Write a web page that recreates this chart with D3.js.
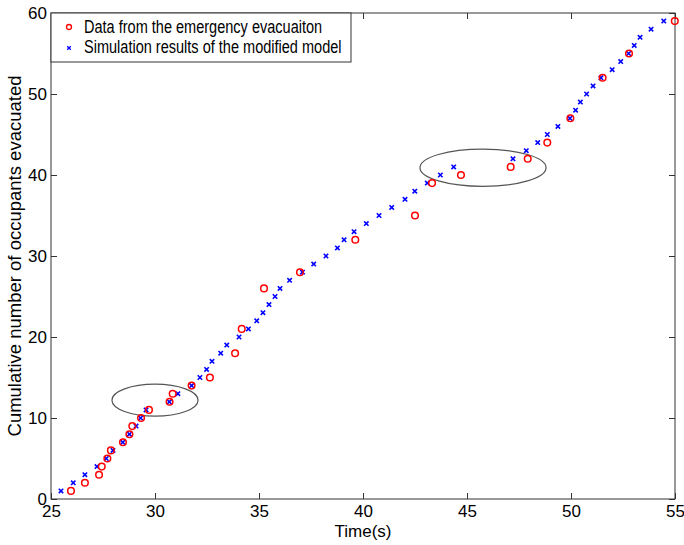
<!DOCTYPE html>
<html>
<head>
<meta charset="utf-8">
<title>Cumulative evacuation</title>
<script src="https://d3js.org/d3.v7.min.js"></script>
<style>
  body { margin: 0; background: #fff; font-family: "Liberation Sans", Arial, sans-serif; }
  .tick-label { font-size: 17px; fill: #000; }
  .axis-title { font-size: 17px; fill: #000; }
  .y-title { font-size: 18.5px; fill: #000; }
  .legend-text { font-size: 17.5px; fill: #000; }
</style>
</head>
<body>
<div id="chart"></div>
<script>
// measured data (red circles)
const dataTime = [25.96, 26.63, 27.31, 27.44, 27.71, 27.88, 28.46, 28.77, 28.91, 29.33,
  29.71, 30.70, 30.85, 31.76, 32.64, 33.85, 34.17, 35.24, 36.97, 39.63,
  42.50, 43.32, 44.71, 47.10, 47.92, 48.86, 49.97, 51.52, 52.79, 54.99];
const dataCount = [1, 2, 3, 4, 5, 6, 7, 8, 9, 10,
  11, 12, 13, 14, 15, 18, 21, 26, 28, 32,
  35, 39, 40, 41, 42, 44, 47, 52, 55, 59];

// simulation (blue crosses)
const simTime = [25.48, 26.07, 26.63, 27.21, 27.66, 27.98, 28.45, 28.77, 29.09, 29.31,
  29.57, 30.69, 31.10, 31.76, 32.16, 32.48, 32.74, 33.16, 33.45, 34.04,
  34.49, 34.89, 35.19, 35.48, 35.77, 36.01, 36.47, 37.09, 37.63, 38.22,
  38.77, 39.09, 39.57, 40.16, 40.77, 41.38, 42.02, 42.49, 43.09, 43.72,
  44.36, 47.21, 47.85, 48.40, 48.86, 49.37, 49.95, 50.22, 50.45, 50.75,
  51.06, 51.44, 51.98, 52.39, 52.77, 53.04, 53.32, 53.85, 54.46];
const simCount = [1, 2, 3, 4, 5, 6, 7, 8, 9, 10,
  11, 12, 13, 14, 15, 16, 17, 18, 19, 20,
  21, 22, 23, 24, 25, 26, 27, 28, 29, 30,
  31, 32, 33, 34, 35, 36, 37, 38, 39, 40,
  41, 42, 43, 44, 45, 46, 47, 48, 49, 50,
  51, 52, 53, 54, 55, 56, 57, 58, 59];

const xTicks = [25, 30, 35, 40, 45, 50, 55];
const yTicks = [0, 10, 20, 30, 40, 50, 60];
const legendLabels = ["Data from the emergency evacuaiton", "Simulation results of the modified model"];

// highlighted regions (data units)
const ellipseCx = [30.0, 45.77];
const ellipseCy = [12.2, 40.9];
const ellipseRx = [2.07, 3.03];
const ellipseRy = [1.97, 2.3];

const width = 684, height = 545;
const margin = { top: 13, right: 9, bottom: 46, left: 51 };

const svg = d3.select("#chart").append("svg")
  .attr("width", width)
  .attr("height", height);

const x = d3.scaleLinear().domain([25, 55]).range([margin.left, width - margin.right]);
const y = d3.scaleLinear().domain([0, 60]).range([height - margin.bottom, margin.top]);

const axisColor = "#333";
const tickLen = 6;

// box
svg.append("rect")
  .attr("x", x(25)).attr("y", y(60))
  .attr("width", x(55) - x(25)).attr("height", y(0) - y(60))
  .attr("fill", "none").attr("stroke", axisColor).attr("stroke-width", 1);

// inward ticks on all four sides
const bottomAxis = svg.append("g").attr("transform", `translate(0,${y(0)})`)
  .call(d3.axisBottom(x).tickValues(xTicks).tickSizeInner(-tickLen).tickSizeOuter(0).tickPadding(6));
const leftAxis = svg.append("g").attr("transform", `translate(${x(25)},0)`)
  .call(d3.axisLeft(y).tickValues(yTicks).tickSizeInner(-tickLen).tickSizeOuter(0).tickPadding(4));
const topAxis = svg.append("g").attr("transform", `translate(0,${y(60)})`)
  .call(d3.axisTop(x).tickValues(xTicks).tickSizeInner(-tickLen).tickSizeOuter(0).tickFormat(""));
const rightAxis = svg.append("g").attr("transform", `translate(${x(55)},0)`)
  .call(d3.axisRight(y).tickValues(yTicks).tickSizeInner(-tickLen).tickSizeOuter(0).tickFormat(""));

[bottomAxis, leftAxis, topAxis, rightAxis].forEach(g => {
  g.select(".domain").remove();
  g.selectAll(".tick line").attr("stroke", axisColor);
  g.selectAll(".tick text").attr("class", "tick-label").attr("font-family", null).attr("font-size", null);
});

// ellipses
svg.selectAll("ellipse.region")
  .data(ellipseCx)
  .enter().append("ellipse")
  .attr("class", "region")
  .attr("cx", (d) => x(d))
  .attr("cy", (d, i) => y(ellipseCy[i]))
  .attr("rx", (d, i) => x(25 + ellipseRx[i]) - x(25))
  .attr("ry", (d, i) => y(0) - y(ellipseRy[i]))
  .attr("fill", "none")
  .attr("stroke", "#555")
  .attr("stroke-width", 1.2);

// simulation crosses
function crossPath(cx, cy, s) {
  return `M${cx - s},${cy - s}L${cx + s},${cy + s}M${cx - s},${cy + s}L${cx + s},${cy - s}`;
}

svg.append("g").selectAll("path")
  .data(simTime)
  .enter().append("path")
  .attr("d", (d, i) => crossPath(x(d), y(simCount[i]), 2.2))
  .attr("stroke", "#0000ff")
  .attr("stroke-width", 1.6)
  .attr("fill", "none");

// data circles
svg.append("g").selectAll("circle")
  .data(dataTime)
  .enter().append("circle")
  .attr("cx", (d) => x(d))
  .attr("cy", (d, i) => y(dataCount[i]))
  .attr("r", 3.3)
  .attr("fill", "none")
  .attr("stroke", "#ff0000")
  .attr("stroke-width", 1.5);

// legend
const legend = svg.append("g");
legend.append("rect")
  .attr("x", x(25)).attr("y", y(60))
  .attr("width", 300).attr("height", 49)
  .attr("fill", "#fff").attr("stroke", axisColor).attr("stroke-width", 1);

legend.append("circle")
  .attr("cx", 69).attr("cy", 27).attr("r", 2.5)
  .attr("fill", "none").attr("stroke", "#ff0000").attr("stroke-width", 1.3);
legend.append("path")
  .attr("d", crossPath(69, 48, 1.8))
  .attr("stroke", "#0000ff").attr("stroke-width", 1.3);

// the original font is a narrow helvetica, so squeeze the text a bit
legend.selectAll("text")
  .data(legendLabels)
  .enter().append("text")
  .attr("class", "legend-text")
  .attr("x", 84)
  .attr("y", (d, i) => 27 + i * 20)
  .attr("dy", "0.35em")
  .text((d) => d)
  .each(function () {
    const w = this.getComputedTextLength();
    d3.select(this).attr("textLength", w * 0.83).attr("lengthAdjust", "spacingAndGlyphs");
  });

// axis titles
svg.append("text")
  .attr("class", "axis-title")
  .attr("x", (x(25) + x(55)) / 2)
  .attr("y", 537)
  .attr("text-anchor", "middle")
  .text("Time(s)");

svg.append("text")
  .attr("class", "y-title")
  .attr("transform", `translate(21,${(y(0) + y(60)) / 2}) rotate(-90)`)
  .attr("text-anchor", "middle")
  .text("Cumulative number of occupants evacuated");
</script>
</body>
</html>
